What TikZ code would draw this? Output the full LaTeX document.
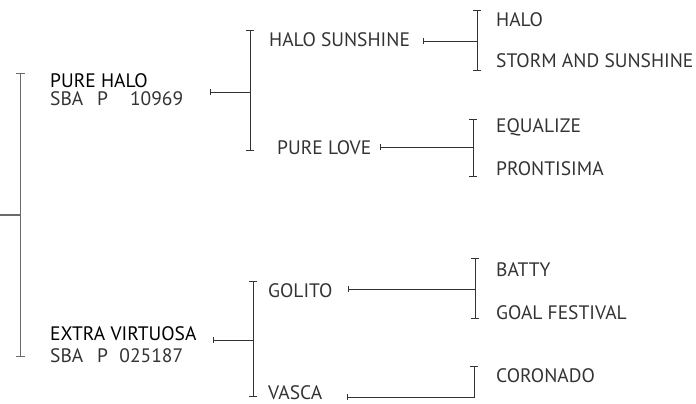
\documentclass[tikz,border=0pt]{standalone}
\usepackage{fontspec}
\setmainfont{PT Sans}
\usetikzlibrary{arrows.meta}
\definecolor{ink}{HTML}{333333}
\definecolor{rootgray}{HTML}{6A6A6A}
\begin{document}
\begin{tikzpicture}[x=1pt,y=-1pt,
  lbl/.style={anchor=base west, inner sep=0pt, text=ink, font=\fontsize{19.5}{22}\selectfont},
  mainlbl/.style={lbl, text=black},
  conn/.style={draw=ink, line width=0.9pt, line join=miter},
  brk/.style={conn, {Bar[width=8pt]}-{Bar[width=8pt]}},
  feed/.style={conn, {Bar[width=6pt]}-},
  rootline/.style={draw=rootgray, line width=1.3pt}
]
\useasboundingbox (0,0) rectangle (696,404);

% labels
\node[mainlbl] (ph) at (50,88) {PURE HALO};
\node[lbl] (phs) at (50,106) {\makebox[133pt][l]{\makebox[47pt][l]{SBA}P\hfill 10969}};
\node[lbl] (hs) at (269,47) {HALO SUNSHINE};
\node[lbl] (pl) at (277,154) {PURE LOVE};
\node[lbl] (halo) at (496,27) {HALO};
\node[lbl] (sas) at (496,67.5) {STORM AND SUNSHINE};
\node[lbl] (eq) at (496,132) {EQUALIZE};
\node[lbl] (pr) at (496,175) {PRONTISIMA};
\node[mainlbl] (ev) at (50,340) {EXTRA VIRTUOSA};
\node[lbl] (evs) at (50,362) {\makebox[133pt][l]{\makebox[47pt][l]{SBA}P\hfill 025187}};
\node[lbl] (go) at (268,297) {GOLITO};
\node[lbl] (va) at (268,399.5) {VASCA};
\node[lbl] (ba) at (496,276) {BATTY};
\node[lbl] (gf) at (496,319) {GOAL FESTIVAL};
\node[lbl] (co) at (496,382) {CORONADO};

% coordinates
\coordinate (rt) at (20.5,73);
\coordinate (rb) at (20.5,357);
\coordinate (rm) at (20.5,215);
\coordinate (re) at (0,215);

\coordinate (phf) at (210,92);
\coordinate (b1m) at (250,92);
\coordinate (b1t) at (250,30);
\coordinate (b1b) at (250,151);

\coordinate (hsf) at (423,41.5);
\coordinate (b2m) at (477,41.5);
\coordinate (b2t) at (477,10);
\coordinate (b2b) at (477,71);

\coordinate (plf) at (380,147);
\coordinate (b3m) at (473,147);
\coordinate (b3t) at (473,119);
\coordinate (b3b) at (473,177);

\coordinate (evf) at (213,340);
\coordinate (b4m) at (253,340);
\coordinate (b4t) at (253,281);
\coordinate (b4b) at (253,397);

\coordinate (gof) at (348,289);
\coordinate (b5m) at (475,289);
\coordinate (b5t) at (475,258);
\coordinate (b5b) at (475,319);

\coordinate (vaf) at (347,397);
\coordinate (b6b) at (474,397);
\coordinate (b6t) at (474,366);

% root bracket
\draw[rootline, {Bar[width=9pt]}-{Bar[width=9pt]}] (rt) -- (rb);
\draw[rootline] (re) -- (rm);

% brackets
\draw[brk] (b1t) -- (b1b);
\draw[feed] (phf) -- (b1m);
\draw[brk] (b2t) -- (b2b);
\draw[feed] (hsf) -- (b2m);
\draw[brk] (b3t) -- (b3b);
\draw[feed] (plf) -- (b3m);
\draw[brk] (b4t) -- (b4b);
\draw[feed] (evf) -- (b4m);
\draw[brk] (b5t) -- (b5b);
\draw[feed] (gof) -- (b5m);
\draw[conn, {Bar[width=6pt]}-{Bar[width=8pt]}] (vaf) -- (b6b) -- (b6t);
\end{tikzpicture}
\end{document}
